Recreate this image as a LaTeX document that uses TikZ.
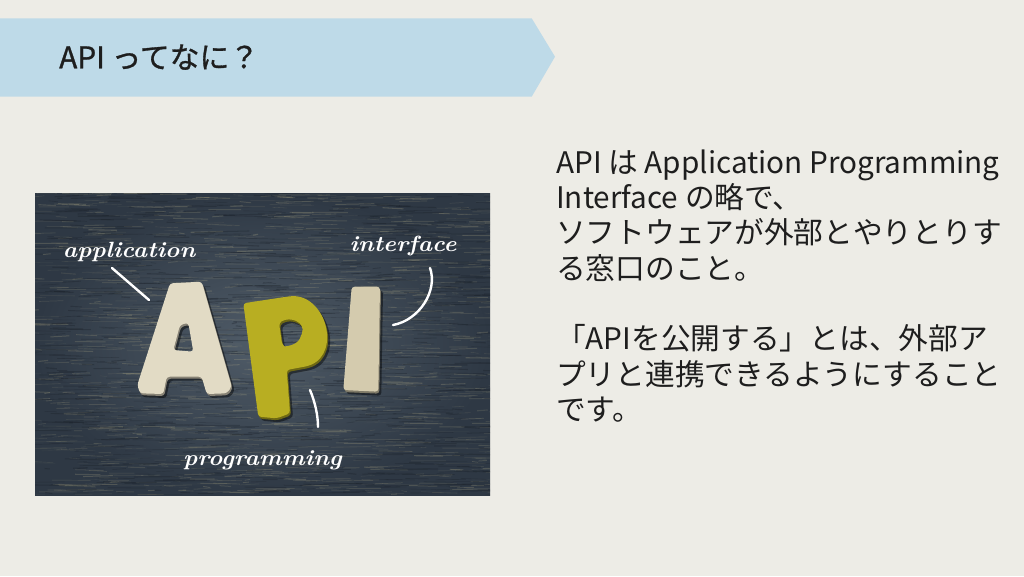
\documentclass[tikz,border=0pt]{standalone}
\usepackage{fontspec}
\usepackage{graphicx}
\usepackage{tikz}
\newfontfamily\jpfont{Noto Sans CJK JP}
\newfontfamily\jptitle{Noto Sans CJK JP}[FakeBold=1]
\definecolor{pagebg}{RGB}{237,236,230}
\definecolor{banner}{RGB}{190,218,232}
\definecolor{ink}{RGB}{30,30,30}
\definecolor{woodmid}{RGB}{80,92,104}
\definecolor{wooddark}{RGB}{46,56,68}
\definecolor{grainlight}{RGB}{172,166,132}
\definecolor{graindark}{RGB}{24,30,38}
\definecolor{faceA}{RGB}{226,219,197}
\definecolor{faceP}{RGB}{184,174,34}
\definecolor{faceI}{RGB}{212,203,174}
\newcommand\handtext[1]{\scalebox{1.1}[1]{#1}}
\tikzset{
  titletext/.style={font=\jptitle\fontsize{29.8}{34}\selectfont, text=ink, inner sep=0pt, anchor=base west},
  bodytext/.style={font=\jpfont\fontsize{29.7}{34}\selectfont, text=ink, inner sep=0pt, anchor=base west},
  hand/.style={font=\bfseries\itshape\fontsize{22}{22}\selectfont, text=white, inner sep=0pt, anchor=base},
  chalk/.style={white, line width=2.4pt, line cap=round},
  dropshadow/.style={fill=black, opacity=.45},
}

\begin{document}
\begin{tikzpicture}[x=1pt, y=-1pt]
  % Define the page
  \useasboundingbox (0,0) rectangle (1024,576);
  \fill[pagebg] (0,0) rectangle (1024,576);

  % Draw the banner
  \fill[banner] (0,18.3) -- (531.7,18.3) -- (555,56.7) -- (531.7,96.7) -- (0,96.7) -- cycle;
  \node[titletext] (title) at (59,68.3) {API ってなに？};

  % Draw the wooden table
  \begin{scope}
    \clip (35,193) rectangle (490,495);
    \shade[inner color=woodmid, outer color=wooddark] (35,193) rectangle (490,495);
    \pgfmathsetseed{42}
    \foreach \i in {1,...,1400} {
      \pgfmathsetmacro\gx{25+465*rnd}
      \pgfmathsetmacro\gy{193+302*rnd}
      \pgfmathsetmacro\gl{5+35*rnd}
      \pgfmathsetmacro\gw{0.3+0.9*rnd}
      \pgfmathsetmacro\go{0.06+0.22*rnd}
      \draw[grainlight, line width=\gw pt, opacity=\go] (\gx,\gy) -- ++(\gl,1.2*rand);
    }
    \foreach \i in {1,...,1000} {
      \pgfmathsetmacro\gx{25+465*rnd}
      \pgfmathsetmacro\gy{193+302*rnd}
      \pgfmathsetmacro\gl{5+40*rnd}
      \pgfmathsetmacro\gw{0.3+0.9*rnd}
      \draw[graindark, line width=\gw pt, opacity=.3] (\gx,\gy) -- ++(\gl,1.2*rand);
    }
  \end{scope}

  % Define the letter outlines
  \def\shapeA{(137.3,385) -- (170,283.3) -- (201.7,281.7) -- (231.7,386.7) -- (226.7,393.3) -- (206.7,394) -- (201.7,376.7) -- (166.7,376.7) -- (163.3,394) -- (140,393.3) -- cycle
    (173.3,350) -- (180,325) -- (188.3,322.7) -- (193.3,351.7) -- cycle}
  \def\shapeP{(243.3,303.3) -- (286.7,296.7) .. controls (325,292) and (342,352) .. (308,366) -- (286.7,370) -- (290,413.3) -- (276.7,418.3) -- (258.3,416.7) -- cycle
    (279,323) .. controls (290,316) and (306,322) .. (301,336) .. controls (297,345) and (285,347) .. (282,344) -- cycle}
  \def\shapeI{(351.7,286.7) -- (380,286.7) -- (378.3,391.7) -- (343.3,390) -- cycle}

  % Draw the letters
  \foreach \s/\c in {\shapeA/faceA, \shapeP/faceP, \shapeI/faceI} {
    \fill[dropshadow, rounded corners=3pt, even odd rule, shift={(3,4)}] \s;
    \fill[\c!60!black, rounded corners=3pt, even odd rule, shift={(1,2)}] \s;
    \fill[\c, rounded corners=3pt, even odd rule] \s;
  }

  % Draw the labels
  \node[hand] (application) at (129,257.7) {\handtext{application}};
  \node[hand] (interface) at (403,251.7) {\handtext{interface}};
  \node[hand] (programming) at (262.5,465) {\handtext{programming}};
  \coordinate (appA) at (112,268);
  \coordinate (appB) at (149,300);
  \coordinate (intA) at (430,268);
  \coordinate (intB) at (393,325);
  \coordinate (proA) at (310,390);
  \coordinate (proB) at (318,427);
  \draw[chalk] (appA) -- (appB);
  \draw[chalk] (intA) .. controls (438,290) and (420,320) .. (intB);
  \draw[chalk] (proA) .. controls (315,402) and (318,415) .. (proB);

  % Draw the text
  \foreach \n/\yy/\txt in {1/173.3/{API は Application Programming}, 2/208.6/{Interface の略で、}, 3/243.9/{ソフトウェアが外部とやりとりす}, 4/279.2/{る窓口のこと。}, 5/349.8/{「APIを公開する」とは、外部ア}, 6/385.1/{プリと連携できるようにすること}, 7/420.4/{です。}} {
    \node[bodytext] (line\n) at (556,\yy) {\txt};
  }

\end{tikzpicture}
\end{document}
